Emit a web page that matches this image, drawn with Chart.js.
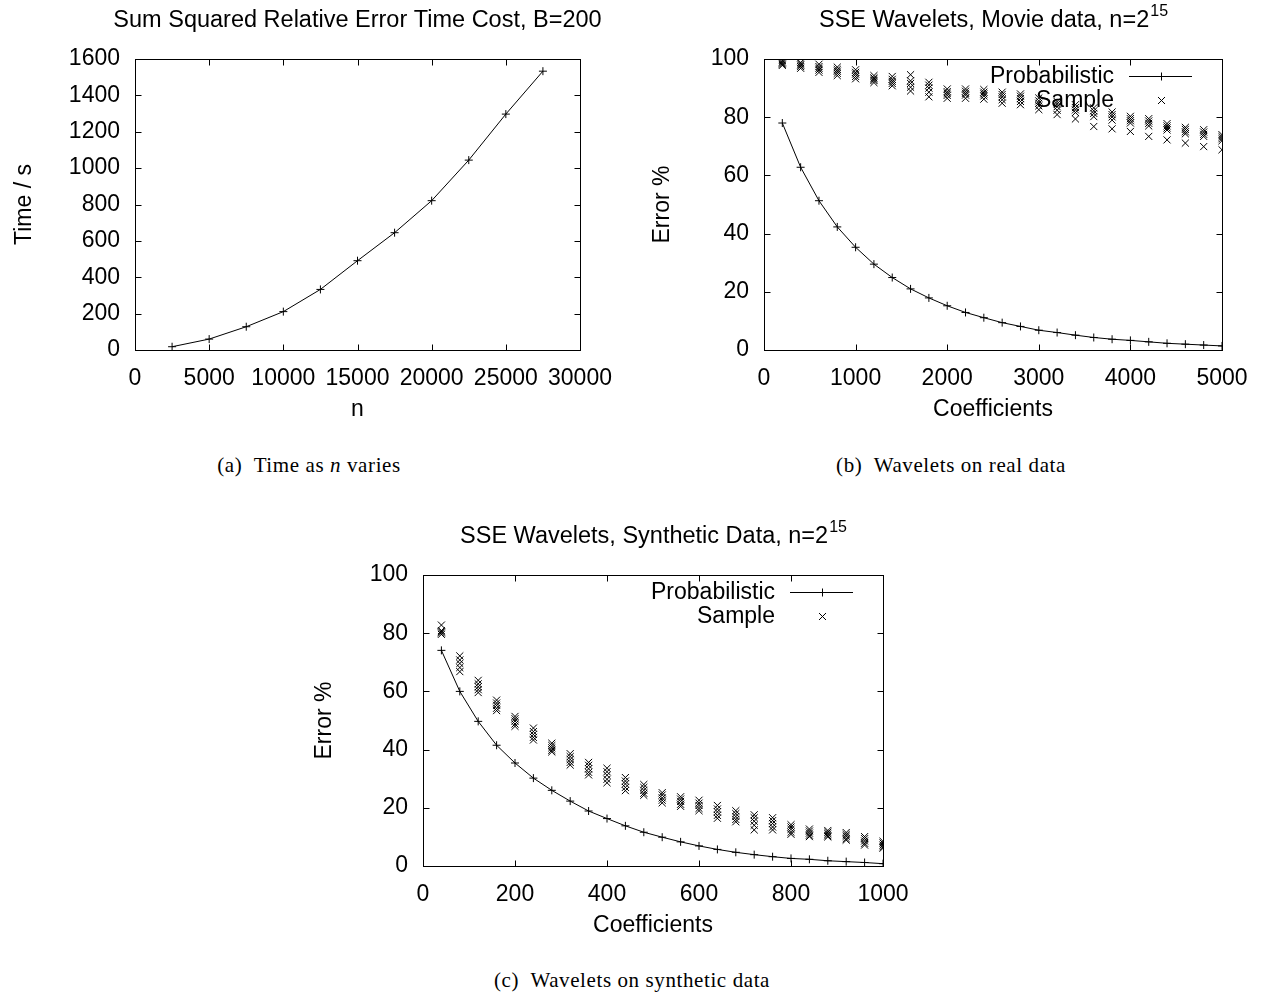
<!DOCTYPE html>
<html><head><meta charset="utf-8">
<script src="https://cdn.jsdelivr.net/npm/chart.js@4.4.0/dist/chart.umd.min.js"></script>
<style>
html,body{margin:0;padding:0;background:#fff;}
body{width:1263px;height:993px;position:relative;overflow:hidden;}
canvas{position:absolute;}
.cap{position:absolute;font-family:"Liberation Serif","DejaVu Serif",serif;font-size:21px;letter-spacing:0.6px;color:#000;white-space:nowrap;transform:translate(-50%,-50%);}
</style></head><body>
<canvas id="ca" width="631" height="440" style="left:0;top:0;width:631px;height:440px"></canvas>
<canvas id="cb" width="632" height="440" style="left:631px;top:0;width:632px;height:440px"></canvas>
<canvas id="cc" width="640" height="440" style="left:290px;top:500px;width:640px;height:440px"></canvas>
<div class="cap" style="left:309px;top:465px">(a)&nbsp; Time as <i>n</i> varies</div>
<div class="cap" style="left:951px;top:465px">(b)&nbsp; Wavelets on real data</div>
<div class="cap" style="left:632px;top:980px">(c)&nbsp; Wavelets on synthetic data</div>
<script>
// ---------- data ----------
const timeN = [2500, 5000, 7500, 10000, 12500, 15000, 17500, 20000, 22500, 25000, 27500];
const timeSeconds = [18, 60, 128, 211, 333, 491, 645, 821, 1044, 1297, 1533];
const timeXTicks = [0, 5000, 10000, 15000, 20000, 25000, 30000];
const timeYTicks = [0, 200, 400, 600, 800, 1000, 1200, 1400, 1600];

const movieCoeffs = [200, 400, 600, 800, 1000, 1200, 1400, 1600, 1800, 2000, 2200, 2400, 2600,
  2800, 3000, 3200, 3400, 3600, 3800, 4000, 4200, 4400, 4600, 4800, 5000];
const movieProbabilistic = [78.0, 62.8, 51.3, 42.3, 35.3, 29.5, 24.9, 21.0, 17.9, 15.2, 12.9, 11.1, 9.4,
  8.1, 6.8, 6.0, 5.1, 4.3, 3.7, 3.3, 2.8, 2.3, 2.0, 1.7, 1.4];
const movieSample1 = [99.5, 98.8, 98.2, 97.2, 96.3, 94.3, 94.0, 94.6, 92.0, 89.7, 89.7, 89.5, 88.6,
  88.0, 86.6, 85.4, 84.3, 83.2, 81.8, 80.3, 79.5, 77.8, 76.5, 75.7, 74.0];
const movieSample2 = [99.0, 98.3, 97.4, 96.4, 95.4, 93.5, 93.0, 92.5, 91.0, 88.8, 88.9, 88.6, 87.8,
  87.2, 85.6, 84.6, 83.3, 82.2, 80.9, 79.5, 78.7, 77.0, 75.8, 74.9, 73.3];
const movieSample3 = [98.6, 97.9, 96.8, 95.8, 94.8, 93.0, 92.3, 91.6, 90.0, 88.2, 88.2, 88.0, 87.0,
  86.4, 84.8, 83.6, 82.5, 81.3, 80.1, 78.8, 77.9, 76.3, 75.0, 74.1, 72.6];
const movieSample4 = [98.2, 97.4, 96.2, 95.1, 94.0, 92.6, 91.6, 90.3, 88.6, 87.5, 87.6, 87.3, 86.0,
  85.4, 83.9, 82.4, 81.6, 80.2, 79.0, 78.0, 77.0, 75.6, 74.3, 73.4, 71.9];
const movieSample5 = [97.8, 96.8, 95.4, 94.3, 93.2, 91.9, 90.8, 89.0, 87.0, 86.5, 86.5, 86.2, 84.8,
  84.3, 82.6, 80.9, 79.4, 76.8, 76.0, 75.1, 73.4, 72.2, 71.1, 69.9, 68.8];
const movieXTicks = [0, 1000, 2000, 3000, 4000, 5000];
const errorYTicks = [0, 20, 40, 60, 80, 100];

const synthCoeffs = [40, 80, 120, 160, 200, 240, 280, 320, 360, 400, 440, 480, 520,
  560, 600, 640, 680, 720, 760, 800, 840, 880, 920, 960, 1000];
const synthProbabilistic = [74.1, 60.0, 49.7, 41.5, 35.4, 30.2, 26.0, 22.3, 18.9, 16.3, 13.8, 11.6, 9.9,
  8.3, 6.9, 5.7, 4.7, 3.9, 3.2, 2.6, 2.3, 1.8, 1.5, 1.2, 0.8];
const synthSample1 = [82.8, 72.2, 63.8, 57.0, 51.4, 47.4, 42.2, 38.6, 35.6, 33.6, 30.4, 28.0, 25.2,
  23.8, 22.6, 20.8, 19.0, 17.6, 16.6, 14.2, 12.7, 12.2, 11.5, 10.1, 8.5];
const synthSample2 = [80.9, 70.8, 62.6, 56.0, 50.6, 46.2, 41.4, 37.6, 34.6, 32.4, 29.2, 27.0, 24.4,
  23.0, 21.6, 19.6, 18.0, 16.6, 15.6, 13.4, 12.0, 11.6, 10.8, 9.4, 7.9];
const synthSample3 = [80.5, 69.6, 61.6, 55.2, 49.8, 45.2, 40.6, 36.6, 33.4, 31.2, 28.2, 26.0, 23.4,
  22.2, 20.8, 18.6, 17.0, 15.4, 14.6, 12.6, 11.3, 11.0, 10.2, 8.6, 7.2];
const synthSample4 = [80.1, 68.2, 60.6, 54.2, 48.8, 44.2, 39.8, 35.6, 32.2, 29.8, 27.0, 25.0, 22.6,
  21.2, 19.8, 17.4, 16.0, 14.0, 13.4, 11.6, 10.6, 10.4, 9.4, 7.8, 6.6];
const synthSample5 = [79.6, 66.8, 59.6, 53.4, 48.0, 43.3, 39.2, 34.7, 31.3, 28.6, 25.9, 24.3, 21.7,
  20.5, 19.0, 16.4, 15.2, 12.4, 12.4, 10.9, 10.1, 10.0, 8.9, 7.2, 6.1];
const synthXTicks = [0, 200, 400, 600, 800, 1000];

// ---------- helpers ----------
const FONT = '"Liberation Sans", Arial, sans-serif';
const FS = 23;
const pts = (xs, ys) => xs.map((x, i) => ({x: x, y: ys[i]}));
const samplePts = (xs, runs) => runs.flatMap(r => pts(xs, r));

function lineDs(label, xs, ys) {
  return {label, data: pts(xs, ys), showLine: true, borderColor: '#000', borderWidth: 1,
    pointStyle: 'cross', pointRadius: 4, pointBorderWidth: 1, pointBorderColor: '#000',
    pointBackgroundColor: '#000', tension: 0, fill: false, order: 1};
}
function scatterDs(label, xs, runs) {
  return {label, data: samplePts(xs, runs), showLine: false, borderColor: '#000',
    pointStyle: 'crossRot', pointRadius: 5, pointBorderWidth: 1, pointBorderColor: '#000',
    pointBackgroundColor: '#000', order: 2};
}

function drawMarker(ctx, style, x, y) {
  ctx.beginPath();
  if (style === 'cross') {
    ctx.moveTo(x - 4, y); ctx.lineTo(x + 4, y);
    ctx.moveTo(x, y - 4); ctx.lineTo(x, y + 4);
  } else {
    const d = 3.5;
    ctx.moveTo(x - d, y - d); ctx.lineTo(x + d, y + d);
    ctx.moveTo(x - d, y + d); ctx.lineTo(x + d, y - d);
  }
  ctx.stroke();
}

const gnuPlugin = {
  id: 'gnu',
  afterDraw(chart, args, o) {
    const {ctx, chartArea: a, scales} = chart;
    const sx = scales.x, sy = scales.y;
    ctx.save();
    ctx.strokeStyle = '#000';
    ctx.fillStyle = '#000';
    ctx.lineWidth = 1;
    const L = Math.round(a.left) + 0.5, R = Math.round(a.right) + 0.5;
    const T = Math.round(a.top) + 0.5, B = Math.round(a.bottom) + 0.5;
    ctx.strokeRect(L, T, R - L, B - T);
    const TL = 6;
    ctx.beginPath();
    sx.ticks.forEach(t => {
      const p = Math.round(sx.getPixelForValue(t.value)) + 0.5;
      ctx.moveTo(p, B); ctx.lineTo(p, B - TL);
      ctx.moveTo(p, T); ctx.lineTo(p, T + TL);
    });
    sy.ticks.forEach(t => {
      const p = Math.round(sy.getPixelForValue(t.value)) + 0.5;
      ctx.moveTo(L, p); ctx.lineTo(L + TL, p);
      ctx.moveTo(R, p); ctx.lineTo(R - TL, p);
    });
    ctx.stroke();

    ctx.textBaseline = 'middle';
    // title (with optional superscript)
    const cx = (a.left + a.right) / 2;
    const ty = a.top - 38;
    const TF = '23.5px ' + FONT;
    ctx.font = TF;
    const w1 = ctx.measureText(o.title).width;
    let w2 = 0;
    if (o.titleSup) { ctx.font = '16px ' + FONT; w2 = ctx.measureText(o.titleSup).width; }
    const x0 = cx - (w1 + w2) / 2;
    ctx.textAlign = 'left';
    ctx.font = TF;
    ctx.fillText(o.title, x0, ty);
    if (o.titleSup) { ctx.font = '16px ' + FONT; ctx.fillText(o.titleSup, x0 + w1 + 1, ty - 9); }
    // axis titles
    ctx.font = FS + 'px ' + FONT;
    ctx.textAlign = 'center';
    ctx.fillText(o.xTitle, cx, a.bottom + 60);
    ctx.save();
    ctx.translate(o.yTitleX, (a.top + a.bottom) / 2);
    ctx.rotate(-Math.PI / 2);
    ctx.fillText(o.yTitle, 0, 0);
    ctx.restore();
    // legend
    if (o.legend) {
      const lx1 = a.right - 93, lx2 = a.right - 30;
      chart.data.datasets.forEach((ds, i) => {
        const y = Math.round(a.top + 17 + i * 24) + 0.5;
        ctx.textAlign = 'right';
        ctx.fillText(ds.label, lx1 - 15, y);
        if (ds.showLine) {
          ctx.beginPath(); ctx.moveTo(lx1, y); ctx.lineTo(lx2, y); ctx.stroke();
        }
        drawMarker(ctx, ds.pointStyle, Math.round((lx1 + lx2) / 2) + 0.5, y);
      });
    }
    ctx.restore();
  }
};

function makeChart(id, c) {
  const tickFont = {family: FONT, size: FS};
  return new Chart(document.getElementById(id), {
    type: 'scatter',
    data: {datasets: c.datasets},
    options: {
      responsive: false, animation: false, devicePixelRatio: 1,
      layout: {padding: c.pad},
      plugins: {legend: {display: false}, tooltip: {enabled: false}, title: {display: false}, gnu: c.gnu},
      scales: {
        x: {type: 'linear', min: c.xTicks[0], max: c.xTicks[c.xTicks.length - 1],
          afterBuildTicks: s => { s.ticks = c.xTicks.map(v => ({value: v})); },
          afterFit: s => { s.height = c.xh; },
          grid: {display: false, drawTicks: false}, border: {display: false},
          ticks: {autoSkip: false, maxRotation: 0, minRotation: 0, padding: 15, color: '#000', font: tickFont,
            callback: v => String(v)}},
        y: {type: 'linear', min: c.yTicks[0], max: c.yTicks[c.yTicks.length - 1],
          afterBuildTicks: s => { s.ticks = c.yTicks.map(v => ({value: v})); },
          afterFit: s => { s.width = c.yw; },
          grid: {display: false, drawTicks: false}, border: {display: false},
          ticks: {autoSkip: false, padding: 15, color: '#000', font: tickFont,
            callback: v => String(v)}}
      }
    },
    plugins: [gnuPlugin]
  });
}

makeChart('ca', {
  datasets: [lineDs('Time', timeN, timeSeconds)],
  xTicks: timeXTicks, yTicks: timeYTicks,
  pad: {left: 0, top: 59, right: 51, bottom: 0}, yw: 135, xh: 90,
  gnu: {title: 'Sum Squared Relative Error Time Cost, B=200', xTitle: 'n', yTitle: 'Time / s', yTitleX: 25, legend: false}
});

makeChart('cb', {
  datasets: [lineDs('Probabilistic', movieCoeffs, movieProbabilistic),
             scatterDs('Sample', movieCoeffs, [movieSample1, movieSample2, movieSample3, movieSample4, movieSample5])],
  xTicks: movieXTicks, yTicks: errorYTicks,
  pad: {left: 0, top: 59, right: 41, bottom: 0}, yw: 133, xh: 90,
  gnu: {title: 'SSE Wavelets, Movie data, n=2', titleSup: '15', xTitle: 'Coefficients', yTitle: 'Error %', yTitleX: 32, legend: true}
});

makeChart('cc', {
  datasets: [lineDs('Probabilistic', synthCoeffs, synthProbabilistic),
             scatterDs('Sample', synthCoeffs, [synthSample1, synthSample2, synthSample3, synthSample4, synthSample5])],
  xTicks: synthXTicks, yTicks: errorYTicks,
  pad: {left: 0, top: 75, right: 47, bottom: 0}, yw: 133, xh: 74,
  gnu: {title: 'SSE Wavelets, Synthetic Data, n=2', titleSup: '15', xTitle: 'Coefficients', yTitle: 'Error %', yTitleX: 35, legend: true}
});
</script>
</body></html>
